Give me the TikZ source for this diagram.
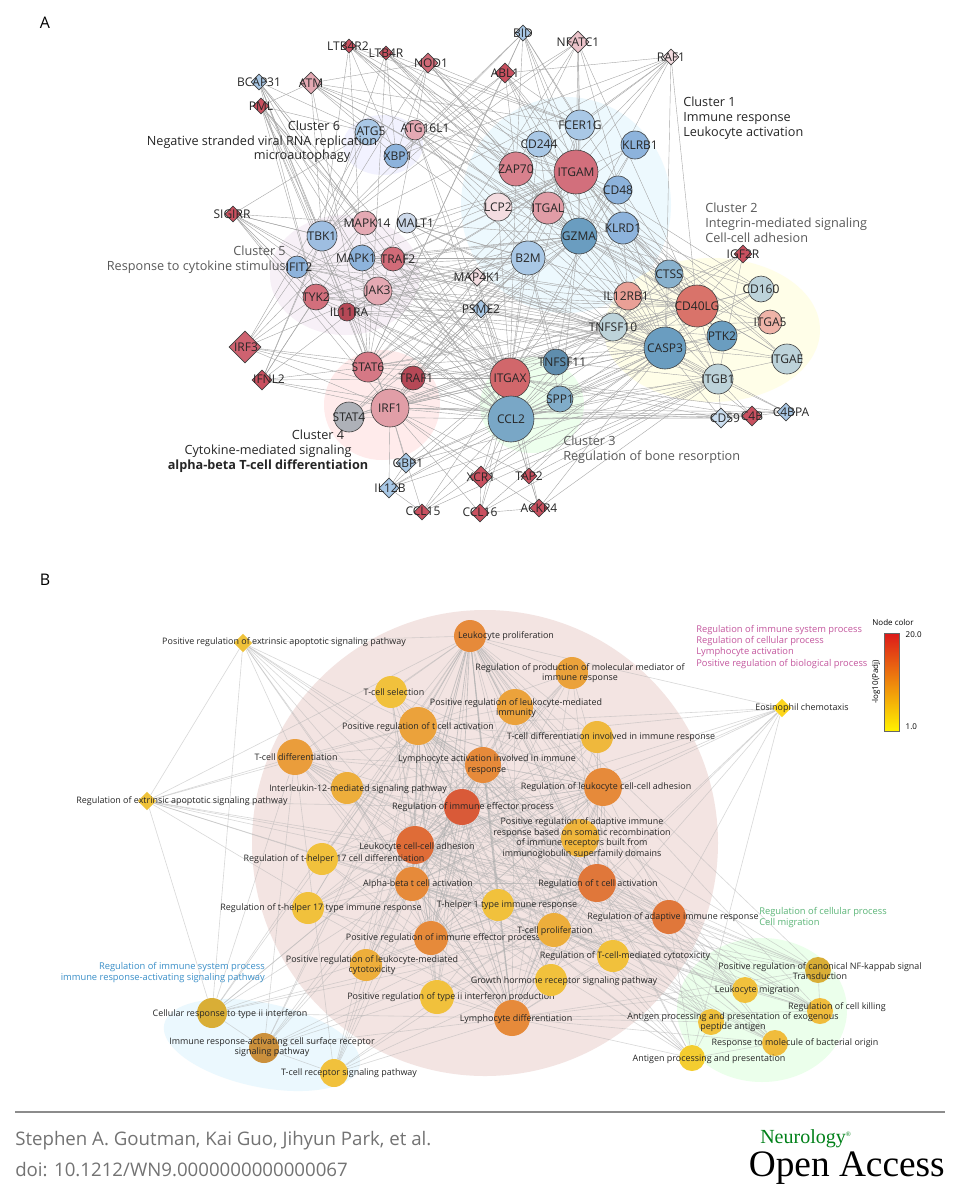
\documentclass[tikz,border=0pt]{standalone}
\usepackage{fontspec}
\setmainfont{Open Sans}
\newfontfamily\logofont{Liberation Serif}
\usetikzlibrary{shapes.geometric,backgrounds}
\pgfdeclarelayer{bg}
\pgfdeclarelayer{blob}
\pgfdeclarelayer{edges}
\pgfsetlayers{bg,blob,edges,main}
\definecolor{dred}{HTML}{C9505F}
\definecolor{lblue}{HTML}{A9C8E6}
\definecolor{mblue}{HTML}{8DB3DC}
\definecolor{sblue}{HTML}{6A9DC0}
\definecolor{pstl}{HTML}{BDD3DA}
\definecolor{pink}{HTML}{E4A9B3}
\definecolor{ypale}{HTML}{EFC23A}
\definecolor{ylw}{HTML}{F1C13C}
\definecolor{orn}{HTML}{E68A3A}
\definecolor{morn}{HTML}{EBA23B}
\definecolor{rorn}{HTML}{E0773A}
\definecolor{magt}{HTML}{C4579E}
\definecolor{bltx}{HTML}{3A8FC8}
\definecolor{grtx}{HTML}{5BB577}
\definecolor{cilr}{HTML}{E9A096}
\definecolor{ccdf}{HTML}{D9736A}
\definecolor{citf}{HTML}{EFB4A8}
\definecolor{citx}{HTML}{D1676B}
\definecolor{crie}{HTML}{D95A38}
\definecolor{clcc}{HTML}{DF6C37}
\definecolor{bpink}{HTML}{F3E4E2}
\tikzset{
 gc/.style={circle,draw=black!75,line width=0.45pt,inner sep=0pt},
 gd/.style={diamond,draw=black!75,line width=0.45pt,inner sep=0pt,aspect=1},
 la/.style={font=\fontsize{9pt}{9pt}\selectfont,text=black!85,inner sep=0pt},
 lb/.style={font=\fontsize{6.7pt}{8pt}\selectfont,text=black!85,inner sep=0pt,align=center},
 clt/.style={font=\fontsize{9.5pt}{11pt}\selectfont,inner sep=0pt,align=left},
 ea/.style={draw=gray!70,line width=0.3pt},
 eb/.style={draw=gray!60,line width=0.45pt,opacity=0.5},
 ct/.style={font=\fontsize{7pt}{8.4pt}\selectfont,inner sep=0pt},
}
\newcommand\an[6]{\node[gc,fill=#4,minimum size=#3*1.5pt] (#1) at (#2) {};\node[la] at (#5) {#6};}
\newcommand\ad[6]{\node[gd,fill=#4,minimum size=#3*1.5pt] (#1) at (#2) {};\node[la] at (#5) {#6};}
\newcommand\bn[6]{\node[circle,inner sep=0pt,fill=#4,minimum size=#3*1.5pt] (#1) at (#2) {};\node[lb] at (#5) {#6};}
\newcommand\bd[5]{\node[diamond,aspect=1,inner sep=0pt,fill=#3,minimum size=14pt] (#1) at (#2) {};\node[lb] at (#4) {#5};}
\begin{document}
\begin{tikzpicture}[x=0.75pt,y=-0.75pt]
\useasboundingbox (0,0) rectangle (960,1200);
\begin{pgfonlayer}{bg}\fill[white] (0,0) rectangle (960,1200);\end{pgfonlayer}
\node[font=\fontsize{12pt}{12pt}\selectfont] at (45,23) {A};
\node[font=\fontsize{12pt}{12pt}\selectfont] at (45,580) {B};
% ---------------- Panel A nodes
\ad{LTBRb}{349,46}{7}{dred}{348,46}{LTB4R2}
\ad{LTBR}{386,53}{7}{dred}{386,53}{LTB4R}
\ad{NOD}{428,63}{10}{dred!70!pink}{431,63}{NOD1}
\ad{BCAP}{259,82}{8}{lblue}{259,82}{BCAP31}
\ad{ATM}{311,83}{11}{pink}{311,83}{ATM}
\ad{PML}{261,106}{8}{dred}{261,106}{PML}
\ad{BID}{523,33}{8}{lblue}{523,33}{BID}
\ad{NFATC}{578,42}{11}{pink!70!white}{578,42}{NFATC1}
\ad{ABL}{505,73}{10}{dred}{505,73}{ABL1}
\ad{RAF}{671,57}{8}{pink!40!white}{671,57}{RAF1}
\an{ATGv}{368,132}{13}{lblue}{371,131}{ATG5}
\an{ATGl}{415,130}{10}{pink}{425,128}{ATG16L1}
\an{XBP}{396,156}{12}{mblue}{398,156}{XBP1}
\ad{SIG}{233,214}{8}{dred}{232,214}{SIGIRR}
\an{TBK}{322,236}{15}{mblue!85!white}{322,236}{TBK1}
\an{MAPKf}{365,223}{12}{pink}{367,223}{MAPK14}
\an{MALT}{407,223}{10}{blue!8!pstl!60!white}{415,223}{MALT1}
\an{MAPK}{362,258}{13}{mblue}{356,258}{MAPK1}
\an{TRAFb}{393,259}{12}{dred!70!pink}{398,259}{TRAF2}
\an{IFIT}{297,267}{11}{mblue}{299,267}{IFIT2}
\an{TYK}{316,297}{13}{dred!65!pink}{316,297}{TYK2}
\an{JAK}{378,291}{14}{pink}{378,291}{JAK3}
\an{ILRA}{347,312}{9}{dred!90!black}{349,312}{IL11RA}
\ad{IRFt}{245,347}{16}{dred!80!pink}{246,347}{IRF3}
\ad{IFNL}{262,380}{10}{dred}{269,379}{IFNL2}
\an{STATs}{368,367}{15}{dred!55!pink}{368,367}{STAT6}
\an{TRAFa}{413,378}{12}{dred!90!black}{416,378}{TRAF1}
\an{IRFa}{390,408}{19}{pink!60!dred!80!white}{390,408}{IRF1}
\an{STATf}{349,417}{15}{black!15!pstl!80!pink}{349,417}{STAT4}
\ad{GBP}{406,463}{10}{lblue}{408,463}{GBP1}
\ad{ILtb}{389,488}{10}{lblue}{390,488}{IL12B}
\ad{CCLf}{422,512}{8}{dred}{423,511}{CCL15}
\an{FCER}{580,125}{15}{lblue}{580,125}{FCER1G}
\an{CDtf}{539,144}{13}{lblue}{539,144}{CD244}
\an{KLRB}{635,145}{14}{mblue}{640,145}{KLRB1}
\an{ZAP}{516,169}{17}{dred!45!pink}{516,169}{ZAP70}
\an{ITGAM}{576,172}{22}{dred!65!pink}{576,172}{ITGAM}
\an{CDfe}{618,190}{14}{mblue}{618,190}{CD48}
\an{LCP}{498,207}{14}{pink!40!white}{498,207}{LCP2}
\an{ITGAL}{548,208}{16}{pink!85!dred}{548,208}{ITGAL}
\an{GZMA}{579,236}{18}{sblue}{579,236}{GZMA}
\an{KLRD}{623,228}{16}{mblue}{623,228}{KLRD1}
\an{BtM}{528,258}{17}{lblue}{528,258}{B2M}
\ad{IGF}{743,254}{9}{dred}{743,254}{IGF2R}
\an{CTSS}{669,274}{14}{sblue!80!white}{669,274}{CTSS}
\an{CDos}{761,289}{13}{pstl}{761,289}{CD160}
\an{ILtrb}{628,296}{14}{cilr}{626,296}{IL12RB1}
\an{CDfl}{697,306}{21}{ccdf}{697,306}{CD40LG}
\an{ITGAf}{770,322}{12}{citf}{770,322}{ITGA5}
\an{TNFt}{613,327}{14}{pstl}{613,327}{TNFSF10}
\an{CASP}{665,348}{21}{sblue}{665,348}{CASP3}
\an{PTK}{722,336}{15}{sblue}{722,336}{PTK2}
\an{ITGAE}{787,359}{15}{pstl}{787,359}{ITGAE}
\ad{MAPfk}{477,277}{9}{pink!40!white}{477,277}{MAP4K1}
\ad{PSME}{481,309}{9}{lblue}{481,309}{PSME2}
\an{TNFe}{556,362}{13}{sblue!90!black}{562,362}{TNFSF11}
\an{ITGAX}{510,378}{20}{citx}{510,378}{ITGAX}
\an{ITGB}{718,379}{15}{pstl}{718,379}{ITGB1}
\an{SPP}{560,399}{13}{sblue!85!white}{560,399}{SPP1}
\an{CCLt}{511,419}{23}{sblue!90!white}{511,419}{CCL2}
\ad{CDfn}{721,418}{10}{lblue!60!white}{725,418}{CD59}
\ad{CfB}{752,416}{10}{dred}{752,416}{C4B}
\ad{CfBPA}{786,412}{9}{lblue}{791,412}{C4BPA}
\ad{XCR}{481,477}{11}{dred}{481,477}{XCR1}
\ad{TAP}{529,476}{8}{dred}{529,476}{TAP2}
\ad{CCLs}{480,513}{9}{dred}{480,512}{CCL16}
\ad{ACKR}{539,508}{9}{dred}{539,508}{ACKR4}
% cluster texts
\node[clt,text=black!85,align=center] at (262,142) {\makebox[0pt]{\hspace{78pt}Cluster 6}\\Negative stranded viral RNA replication\\\makebox[0pt]{\hspace{60pt}microautophagy}};
\node[clt,text=black!85,anchor=north west] at (683,97) {Cluster 1\\Immune response\\Leukocyte activation};
\node[clt,text=black!65,anchor=north west] at (705,203) {Cluster 2\\Integrin-mediated signaling\\Cell-cell adhesion};
\node[clt,text=black!65,align=right,anchor=east] at (286,260) {Cluster 5\\Response to cytokine stimulus};
\node[clt,text=black!65,anchor=north west] at (563,436) {Cluster 3\\Regulation of bone resorption};
\node[clt,text=black!85,align=center,anchor=north] at (268,430) {\makebox[0pt]{\hspace{75pt}Cluster 4}\\Cytokine-mediated signaling\\\textbf{alpha-beta T-cell differentiation}};
% ---------------- Panel A blobs & edges
\begin{pgfonlayer}{blob}
\fill[cyan!7] (566,205) ellipse [x radius=105*0.75pt, y radius=108*0.75pt];
\fill[yellow!9] (712,330) ellipse [x radius=108*0.75pt, y radius=72*0.75pt];
\fill[green!7] (532,405) ellipse [x radius=52*0.75pt, y radius=48*0.75pt];
\fill[violet!6] (345,275) ellipse [x radius=75*0.75pt, y radius=60*0.75pt];
\fill[red!8] (382,405) ellipse [x radius=58*0.75pt, y radius=55*0.75pt];
\fill[blue!5] (383,145) ellipse [x radius=40*0.75pt, y radius=30*0.75pt];
\end{pgfonlayer}
\begin{pgfonlayer}{edges}
\foreach \a in {ATM,NOD,ABL,NFATC,BID,RAF,LTBR,LTBRb}
 \foreach \b in {ITGAM,GZMA,CASP,TBK,XBP,ZAP,FCER,STATs,CDfl}
  \draw[ea] (\a)--(\b);
\foreach \a in {IRFt,IFNL,SIG,PML,BCAP}
 \foreach \b in {TBK,TYK,STATs,IRFa,JAK,MAPKf,ATGv,ITGAX,CCLt}
  \draw[ea] (\a)--(\b);
\foreach \a in {TYK,JAK,MAPK,TRAFb,ILRA,STATs,IRFa,TRAFa,STATf,IFIT,MALT,ATGl}
 \foreach \b in {ITGAM,GZMA,CCLt,ITGAX,CASP,CDfl,BtM,TNFt}
  \draw[ea] (\a)--(\b);
\foreach \a in {CTSS,CDos,ITGAf,ITGAE,ITGB,PTK,ILtrb}
 \foreach \b in {CASP,CDfl,ITGAM,GZMA,CCLt,KLRD,TNFt}
  \draw[ea] (\a)--(\b);
\foreach \a in {FCER,CDtf,KLRB,ZAP,CDfe,LCP,KLRD,BtM}
 \foreach \b in {ITGAM,GZMA,ITGAL,ITGAX}
  \draw[ea] (\a)--(\b);
\foreach \a in {XCR,TAP,CCLf,CCLs,ACKR,GBP,ILtb,CDfn,CfB,CfBPA,IGF,MAPfk,PSME}
 \foreach \b in {CCLt,ITGAX,IRFa,CASP,ITGB}
  \draw[ea] (\a)--(\b);
\foreach \a in {SPP,TNFe}
 \foreach \b in {CCLt,ITGAX,CASP,ITGB,CDfl,GZMA,BtM,JAK}
  \draw[ea] (\a)--(\b);
\foreach \a/\b in {CCLs/ACKR,CfB/CfBPA,CDfn/CfB,ATM/PML,ATM/NOD,ABL/RAF,BID/ABL,SIG/TBK,XCR/CCLs,TAP/ACKR,ILtb/CCLf,GBP/ILtb}
  \draw[ea] (\a)--(\b);
\end{pgfonlayer}
% ---------------- Panel B
\bd{prea}{243,643}{ypale}{284,642}{Positive regulation of extrinsic apoptotic signaling pathway}
\bd{rea}{147,801}{ypale}{182,801}{Regulation of extrinsic apoptotic signaling pathway}
\bd{eos}{782,708}{yellow!70!orange!90!white}{802,708}{Eosinophil chemotaxis}
\bn{lp}{470,636}{16}{orn}{506,636}{Leukocyte proliferation}
\bn{ts}{391,692}{16}{ylw}{394,692}{T-cell selection}
\bn{prtca}{418,726}{19}{morn}{418,727}{Positive regulation of t cell activation}
\bn{td}{295,757}{18}{morn!80!orn}{296,757}{T-cell differentiation}
\bn{il}{347,788}{16}{morn!60!ylw}{358,789}{Interleukin-12-mediated signaling pathway}
\bn{rie}{462,807}{18}{crie}{473,807}{Regulation of immune effector process}
\bn{lcca}{415,845}{19}{clcc}{417,847}{Leukocyte cell-cell adhesion}
\bn{rthd}{322,859}{16}{ylw}{334,859}{Regulation of t-helper 17 cell differentiation}
\bn{abt}{412,884}{17}{orn}{418,884}{Alpha-beta t cell activation}
\bn{rtht}{308,908}{16}{ylw}{321,908}{Regulation of t-helper 17 type immune response}
\bn{tho}{498,905}{16}{ylw}{507,905}{T-helper 1 type immune response}
\bn{prie}{431,938}{17}{orn}{443,938}{Positive regulation of immune effector process}
\bn{prlc}{366,965}{16}{morn!60!ylw}{372,965}{Positive regulation of leukocyte-mediated\\cytotoxicity}
\bn{prt}{437,997}{17}{ylw}{451,997}{Positive regulation of type ii interferon production}
\bn{crt}{212,1013}{15}{ylw!90!black}{230,1014}{Cellular response to type ii interferon}
\bn{iracs}{264,1048}{15}{morn!85!black!95!white}{272,1047}{Immune response-activating cell surface receptor\\signaling pathway}
\bn{tcr}{334,1073}{14}{ylw}{349,1073}{T-cell receptor signaling pathway}
\bn{rpmm}{572,673}{16}{morn}{580,673}{Regulation of production of molecular mediator of\\immune response}
\bn{prlmi}{515,707}{18}{morn}{516,708}{Positive regulation of leukocyte-mediated\\immunity}
\bn{tdi}{597,737}{16}{ylw!70!morn}{611,737}{T-cell differentiation involved in immune response}
\bn{lai}{483,765}{18}{orn}{487,765}{Lymphocyte activation involved in immune\\response}
\bn{rlcca}{603,787}{19}{orn}{606,787}{Regulation of leukocyte cell-cell adhesion}
\bn{prair}{580,838}{19}{ylw!60!morn}{582,838}{Positive regulation of adaptive immune\\response based on somatic recombination\\of immune receptors built from\\immunoglobulin superfamily domains}
\bn{rtca}{597,883}{19}{rorn}{598,884}{Regulation of t cell activation}
\bn{rair}{669,917}{17}{rorn}{673,917}{Regulation of adaptive immune response}
\bn{tp}{554,930}{17}{morn!60!ylw}{555,931}{T-cell proliferation}
\bn{rtcmc}{613,956}{16}{ylw}{625,956}{Regulation of T-cell-mediated cytotoxicity}
\bn{ghr}{551,980}{16}{ylw}{564,981}{Growth hormone receptor signaling pathway}
\bn{ld}{512,1018}{18}{orn}{516,1019}{Lymphocyte differentiation}
\bn{nf}{818,970}{13}{ylw!90!black}{820,971}{Positive regulation of canonical NF-kappab signal\\Transduction}
\bn{lm}{745,990}{13}{ylw}{757,990}{Leukocyte migration}
\bn{rck}{820,1011}{13}{ylw!85!morn}{837,1007}{Regulation of cell killing}
\bn{apx}{711,1022}{13}{ylw}{733,1022}{Antigen processing and presentation of exogenous\\peptide antigen}
\bn{rmb}{775,1043}{13}{ylw!85!morn}{795,1043}{Response to molecule of bacterial origin}
\bn{app}{692,1058}{13}{ylw!80!yellow}{709,1059}{Antigen processing and presentation}
\node[ct,text=magt,align=left,anchor=north west] at (696,625) {Regulation of immune system process\\Regulation of cellular process\\Lymphocyte activation\\Positive regulation of biological process};
\node[ct,text=bltx,align=right,anchor=north east] at (265,962) {Regulation of immune system process\\immune response-activating signaling pathway};
\node[ct,text=grtx,align=left,anchor=north west] at (759,907) {Regulation of cellular process\\Cell migration};
% legend
\node[font=\fontsize{6pt}{6pt}\selectfont] at (893,622) {Node color};
\shade[top color=red!85!black!90!white, middle color=orange!85!yellow, bottom color=yellow!90!orange, draw=black!60, line width=0.3pt] (884,633) rectangle (899,731);
\node[font=\fontsize{6pt}{6pt}\selectfont,anchor=west] at (901,635) {20.0};
\node[font=\fontsize{6pt}{6pt}\selectfont,anchor=west] at (901,727) {1.0};
\node[font=\fontsize{6pt}{6pt}\selectfont,rotate=90] at (876,682) {-log10(Padj)};
\begin{pgfonlayer}{blob}
\fill[bpink] (485,843) circle [radius=233*0.75pt];
\fill[cyan!8,rotate around={-12:(262,1045)}] (262,1045) ellipse [x radius=100*0.75pt, y radius=42*0.75pt];
\fill[green!8] (762,1010) ellipse [x radius=85*0.75pt, y radius=72*0.75pt];
\end{pgfonlayer}
\begin{pgfonlayer}{edges}
\foreach \a in {prea,rea,eos,crt,iracs,tcr,nf,lm,rck,apx,rmb,app}
 \foreach \b in {lp,prtca,td,rie,lcca,abt,rtca,rair,ld,tp}
  \draw[eb] (\a)--(\b);
\foreach \a in {lp,ts,prtca,td,il,rie,lcca,rthd,abt,rtht,tho,prie,prlc,prt,rpmm,prlmi,tdi,lai,rlcca,prair,rtca,rair,tp,rtcmc,ghr,ld}
 \foreach \b in {lp,rie,lcca,prtca,lai,rlcca,rtca,ld,abt,prie}
  \draw[eb] (\a)--(\b);
\foreach \a/\b in {prea/rea,rea/crt,prea/crt,eos/app,eos/rlcca,crt/iracs,iracs/tcr,nf/lm,lm/rck,apx/app,rmb/app,nf/rck}
  \draw[eb] (\a)--(\b);
\end{pgfonlayer}
% footer
\draw[black!45,line width=1pt] (15,1112) -- (945,1112);
\node[anchor=west,text=black!55,font=\fontsize{14pt}{16pt}\selectfont,inner sep=0pt] at (15,1141) {Stephen A. Goutman, Kai Guo, Jihyun Park, et al.};
\node[anchor=west,text=black!55,font=\fontsize{14pt}{16pt}\selectfont,inner sep=0pt] at (15,1170) {doi: 10.1212/WN9.0000000000000067};
\node[anchor=west,text=green!45!black!90!cyan,font=\logofont\fontsize{15pt}{15pt}\selectfont,inner sep=0pt] at (760,1139) {Neurology\textsuperscript{\tiny\textregistered}};
\node[anchor=east,font=\logofont\fontsize{28pt}{28pt}\selectfont,inner sep=0pt] at (945,1168) {Open Access};
\end{tikzpicture}
\end{document}
